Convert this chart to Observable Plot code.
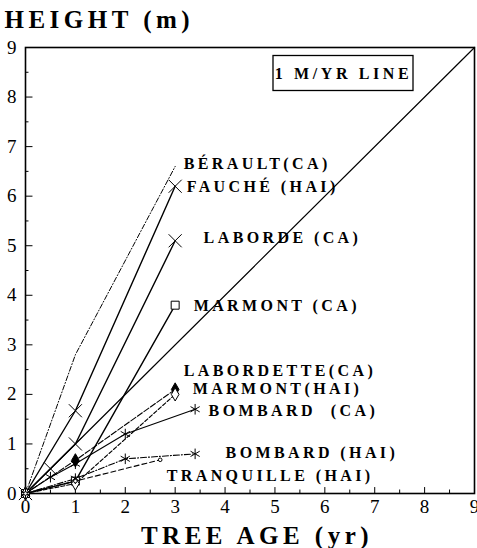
<!DOCTYPE html>
<html><head><meta charset="utf-8">
<script src="https://cdn.jsdelivr.net/npm/d3@7"></script>
<script src="https://cdn.jsdelivr.net/npm/@observablehq/plot@0.6"></script>
<style>body{margin:0;background:#fff}</style>
</head><body><div id="chart"></div>
<script>
// ---- data ----
const seriesNames = ["BÉRAULT(CA)","FAUCHÉ (HAI)","LABORDE (CA)","MARMONT (CA)","LABORDETTE(CA)","MARMONT(HAI)","BOMBARD  (CA)","BOMBARD (HAI)","TRANQUILLE (HAI)"];
const beraultAge = [0,1,3],            beraultHeight = [0,2.8,6.6];
const faucheAge = [0,1,3],             faucheHeight = [0,1.67,6.2];
const labordeAge = [0,0.5,1,3],        labordeHeight = [0,0.5,1.0,5.1];
const marmontCaAge = [0,1,3],          marmontCaHeight = [0,0.25,3.8];
const labordetteAge = [0,1,3],         labordetteHeight = [0,0.67,2.1];
const marmontHaiAge = [0,1,3],         marmontHaiHeight = [0,0.2,2.0];
const bombardCaAge = [0,0.5,1,2,3.4],  bombardCaHeight = [0,0.33,0.6,1.2,1.7];
const bombardHaiAge = [0,1,2,3.4],     bombardHaiHeight = [0,0.3,0.7,0.8];
const tranquilleAge = [0,1,2.7],       tranquilleHeight = [0,0.25,0.68];
const refLineAge = [0,9],              refLineHeight = [0,9];
const labelAge = [3.17,3.23,3.57,3.37,3.17,3.35,3.67,4.01,2.83];
const labelHeight = [6.65,6.19,5.16,3.79,2.48,2.12,1.67,0.81,0.36];
const majorTicks = [0,1,2,3,4,5,6,7,8,9];
const minorTicks = [0.5,1.5,2.5,3.5,4.5,5.5,6.5,7.5,8.5];
const legendText = ["1 M/YR LINE"];
const yTitle = ["HEIGHT (m)"];
const xTitle = ["TREE AGE (yr)"];

const ages = [beraultAge,faucheAge,labordeAge,marmontCaAge,labordetteAge,marmontHaiAge,bombardCaAge,bombardHaiAge,tranquilleAge];
const heights = [beraultHeight,faucheHeight,labordeHeight,marmontCaHeight,labordetteHeight,marmontHaiHeight,bombardCaHeight,bombardHaiHeight,tranquilleHeight];

// ---- styles ----
const styles = [
  {dash:"5,2,1,2", w:1.0, symbol:null},
  {dash:null, w:1.4, symbol:"times", r:6, fill:"none"},
  {dash:null, w:1.4, symbol:"times", r:6, fill:"none"},
  {dash:null, w:1.4, symbol:"square", r:4.5, fill:"white"},
  {dash:"6,2", w:1.1, symbol:"diamond", r:4, fill:"black"},
  {dash:"4,2", w:1.1, symbol:"diamond", r:4, fill:"white"},
  {dash:null, w:1.1, symbol:"asterisk", r:5, fill:"none"},
  {dash:"6,2,1,2", w:1.1, symbol:"asterisk", r:5, fill:"none"},
  {dash:"5,3", w:1.1, symbol:"circle", r:1.8, fill:"white"}
];

const rows = seriesNames.map((name,i)=>ages[i].map((a,j)=>({series:name, age:a, height:heights[i][j]})));
const refRows = refLineAge.map((a,j)=>({age:a, height:refLineHeight[j]}));
const labelRows = seriesNames.map((name,i)=>({name, age:labelAge[i], height:labelHeight[i]}));

const marks = [
  Plot.frame({stroke:"black", strokeWidth:1.6}),
  Plot.ruleX(majorTicks.slice(1,-1), {y1:0, y2:0.12, stroke:"black", strokeWidth:1}),
  Plot.ruleX(minorTicks, {y1:0, y2:0.07, stroke:"black", strokeWidth:1}),
  Plot.ruleY(majorTicks.slice(1,-1), {x1:0, x2:0.15, stroke:"black", strokeWidth:1}),
  Plot.ruleY(minorTicks, {x1:0, x2:0.07, stroke:"black", strokeWidth:1}),
  Plot.axisX(majorTicks, {tickSize:0, tickPadding:6, fontSize:19, label:null, fill:"black", tickFormat:d=>String(d)}),
  Plot.axisY(majorTicks, {tickSize:0, tickPadding:9, fontSize:19, label:null, fill:"black", tickFormat:d=>String(d)}),
  Plot.line(refRows, {x:"age", y:"height", stroke:"black", strokeWidth:1.2})
];
rows.forEach((r,i)=>{
  const s = styles[i];
  marks.push(Plot.line(r, {x:"age", y:"height", stroke:"black", strokeWidth:s.w, strokeDasharray:s.dash}));
});
rows.forEach((r,i)=>{
  const s = styles[i];
  if (s.symbol) marks.push(Plot.dot(r, {x:"age", y:"height", symbol:()=>s.symbol, r:s.r, stroke:"black", strokeWidth:1, fill:s.fill}));
});
marks.push(
  Plot.text(labelRows, {x:"age", y:"height", text:"name", textAnchor:"start", lineAnchor:"middle", fontSize:16, fontWeight:"bold", fill:"black"}),
  Plot.text(legendText, {frameAnchor:"top-right", dx:-131, dy:26, textAnchor:"middle", lineAnchor:"middle", fontSize:16, fontWeight:"bold", fill:"black"}),
  Plot.text(yTitle, {frameAnchor:"top-left", dx:-21, dy:-28, textAnchor:"start", lineAnchor:"middle", fontSize:25, fontWeight:"bold", fill:"black"}),
  Plot.text(xTitle, {frameAnchor:"bottom", dx:7, dy:42, textAnchor:"middle", lineAnchor:"middle", fontSize:25, fontWeight:"bold", fill:"black"})
);

const chart = Plot.plot({
  width:477, height:548,
  marginLeft:25, marginRight:3, marginTop:47, marginBottom:55,
  x:{domain:[0,9]}, y:{domain:[0,9]},
  style:{fontFamily:"'Liberation Serif', 'Times New Roman', serif", background:"white", color:"black", overflow:"visible"},
  marks
});
document.getElementById("chart").appendChild(chart);

const svg = d3.select(chart);
const labelSet = new Set(seriesNames);
svg.selectAll("text").each(function(){
  const t = this.textContent;
  const sel = d3.select(this);
  if (labelSet.has(t)) sel.style("letter-spacing","3.4px").style("white-space","pre");
  else if (t === legendText[0]) sel.style("letter-spacing","3.6px");
  else if (t === yTitle[0] || t === xTitle[0]) sel.style("letter-spacing","4.5px");
});
// box around legend text (frame coordinates from the scales)
const xr = chart.scale("x").range, yr = chart.scale("y").range;
const cx = Math.max(...xr) - 131, cy = Math.min(...yr) + 26;
svg.append("rect").attr("x", cx-70).attr("y", cy-17.5).attr("width",140).attr("height",35)
  .attr("fill","none").attr("stroke","black").attr("stroke-width",1.3);
</script></body></html>
